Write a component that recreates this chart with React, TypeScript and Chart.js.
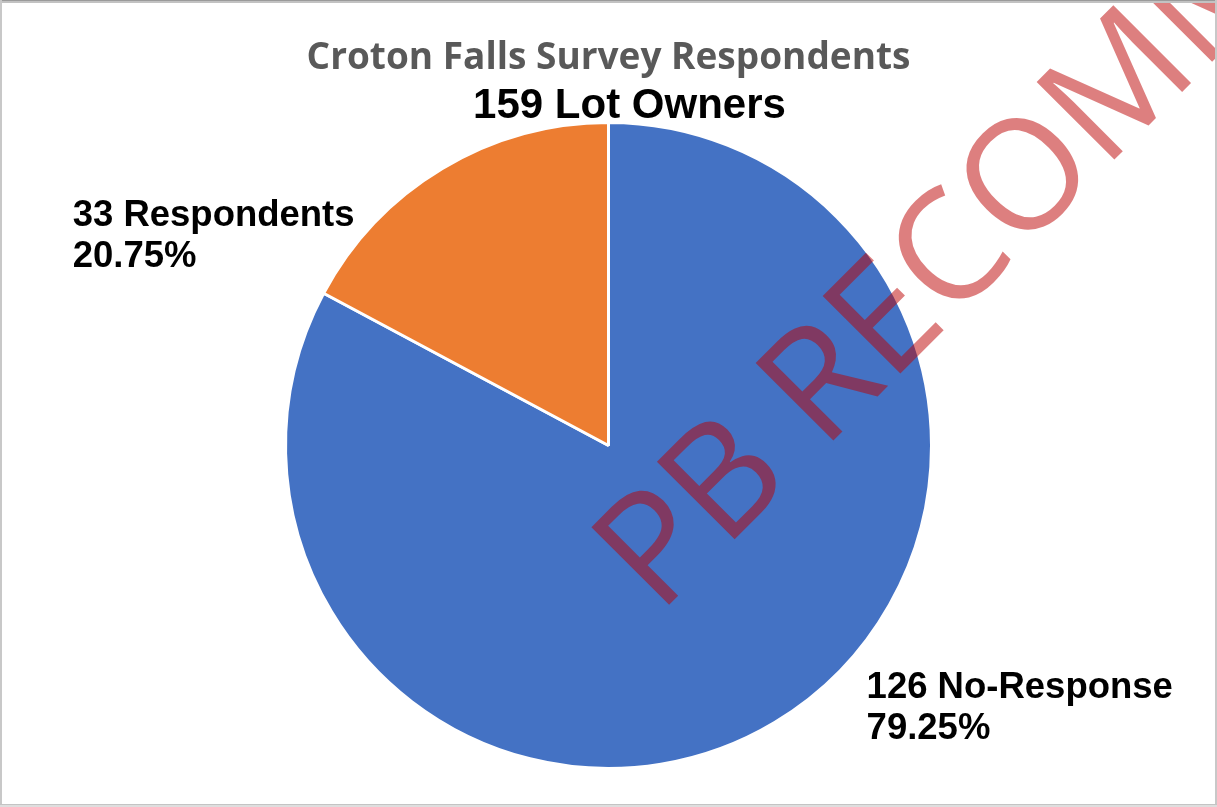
import React, { useEffect, useRef } from "react";
import { Chart, registerables } from "chart.js";

Chart.register(...registerables);

// ---- data ----
const categories = ["No-Response", "Respondents"];
// slice sizes as drawn in the source pie (orange wedge ≈ 62° of the circle)
const sliceValues = [159, 33];
// numbers printed in the data labels
const labelCounts = [126, 33];
const labelPercents = ["79.25%", "20.75%"];
const sliceColors = ["#4472C4", "#ED7D31"];
const titleText = "Croton Falls Survey Respondents";
const subtitleText = "159 Lot Owners";
const watermarkText = "PB RECOMMENDED";

const W = 1217;
const H = 807;

const overlayPlugin = {
  id: "overlay",
  afterDraw(chart: any) {
    const ctx: CanvasRenderingContext2D = chart.ctx;
    const arc = chart.getDatasetMeta(0).data[0] as any;
    const cx = arc.x;
    const cy = arc.y;
    const r = arc.outerRadius;

    ctx.save();
    ctx.textBaseline = "alphabetic";

    // title
    ctx.textAlign = "center";
    ctx.fillStyle = "#595959";
    ctx.font = 'bold 37px "Open Sans"';
    ctx.fillText(titleText, cx, cy - 1.165 * r);

    // subtitle
    ctx.fillStyle = "#000000";
    ctx.font = 'bold 42px "Liberation Sans", Arial, sans-serif';
    ctx.fillText(subtitleText, cx + 21, cy - 1.013 * r);

    // data labels
    ctx.textAlign = "left";
    ctx.font = 'bold 36.5px "Liberation Sans", Arial, sans-serif';
    const lineGap = 41;
    // respondents (orange) label, upper left
    {
      const x = cx - 1.659 * r;
      const y = cy - 0.679 * r;
      ctx.fillText(`${labelCounts[1]} ${categories[1]}`, x, y);
      ctx.fillText(labelPercents[1], x, y + lineGap);
    }
    // no-response (blue) label, lower right
    {
      const x = cx + 0.799 * r;
      const y = cy + 0.782 * r;
      ctx.fillText(`${labelCounts[0]} ${categories[0]}`, x, y);
      ctx.fillText(labelPercents[0], x, y + lineGap);
    }

    // watermark
    ctx.save();
    ctx.translate(cx + 50, cy + 170);
    ctx.rotate(-Math.PI / 4);
    ctx.font = '154px "Open Sans"';
    ctx.fillStyle = "rgba(187,0,0,0.5)";
    ctx.strokeStyle = "rgba(187,0,0,0.5)";
    ctx.textAlign = "left";
    ctx.fillText(watermarkText, 0, 0);
    ctx.restore();

    // frame
    ctx.fillStyle = "#c2c2c2";
    ctx.fillRect(0, 0, W, 3);
    ctx.fillStyle = "#9a9a9a";
    ctx.fillRect(0, 0, W, 1);
    ctx.fillStyle = "#c8c8c8";
    ctx.fillRect(0, 0, 2, H);
    ctx.fillRect(W - 2, 0, 2, H);
    ctx.fillStyle = "#dedede";
    ctx.fillRect(0, H - 3, W, 3);
    ctx.fillStyle = "#c4c4c4";
    ctx.fillRect(0, H - 3, W, 1);

    ctx.restore();
  },
};

export default function App() {
  const canvasRef = useRef<HTMLCanvasElement | null>(null);

  useEffect(() => {
    document.body.style.margin = "0";
    document.body.style.background = "#ffffff";
    const canvas = canvasRef.current;
    if (!canvas) return;
    const chart = new Chart(canvas, {
      type: "pie",
      data: {
        labels: categories,
        datasets: [
          {
            data: sliceValues,
            backgroundColor: sliceColors,
            borderColor: "#ffffff",
            borderWidth: 3,
          },
        ],
      },
      options: {
        responsive: false,
        animation: false,
        devicePixelRatio: 1,
        layout: { padding: { top: 121, bottom: 37, left: 0, right: 0 } },
        plugins: {
          legend: { display: false },
          tooltip: { enabled: false },
          title: { display: false },
        },
      },
      plugins: [overlayPlugin],
    });
    return () => chart.destroy();
  }, []);

  return (
    <div style={{ width: W, height: H, background: "#fff" }}>
      <canvas ref={canvasRef} width={W} height={H} style={{ display: "block" }} />
    </div>
  );
}
